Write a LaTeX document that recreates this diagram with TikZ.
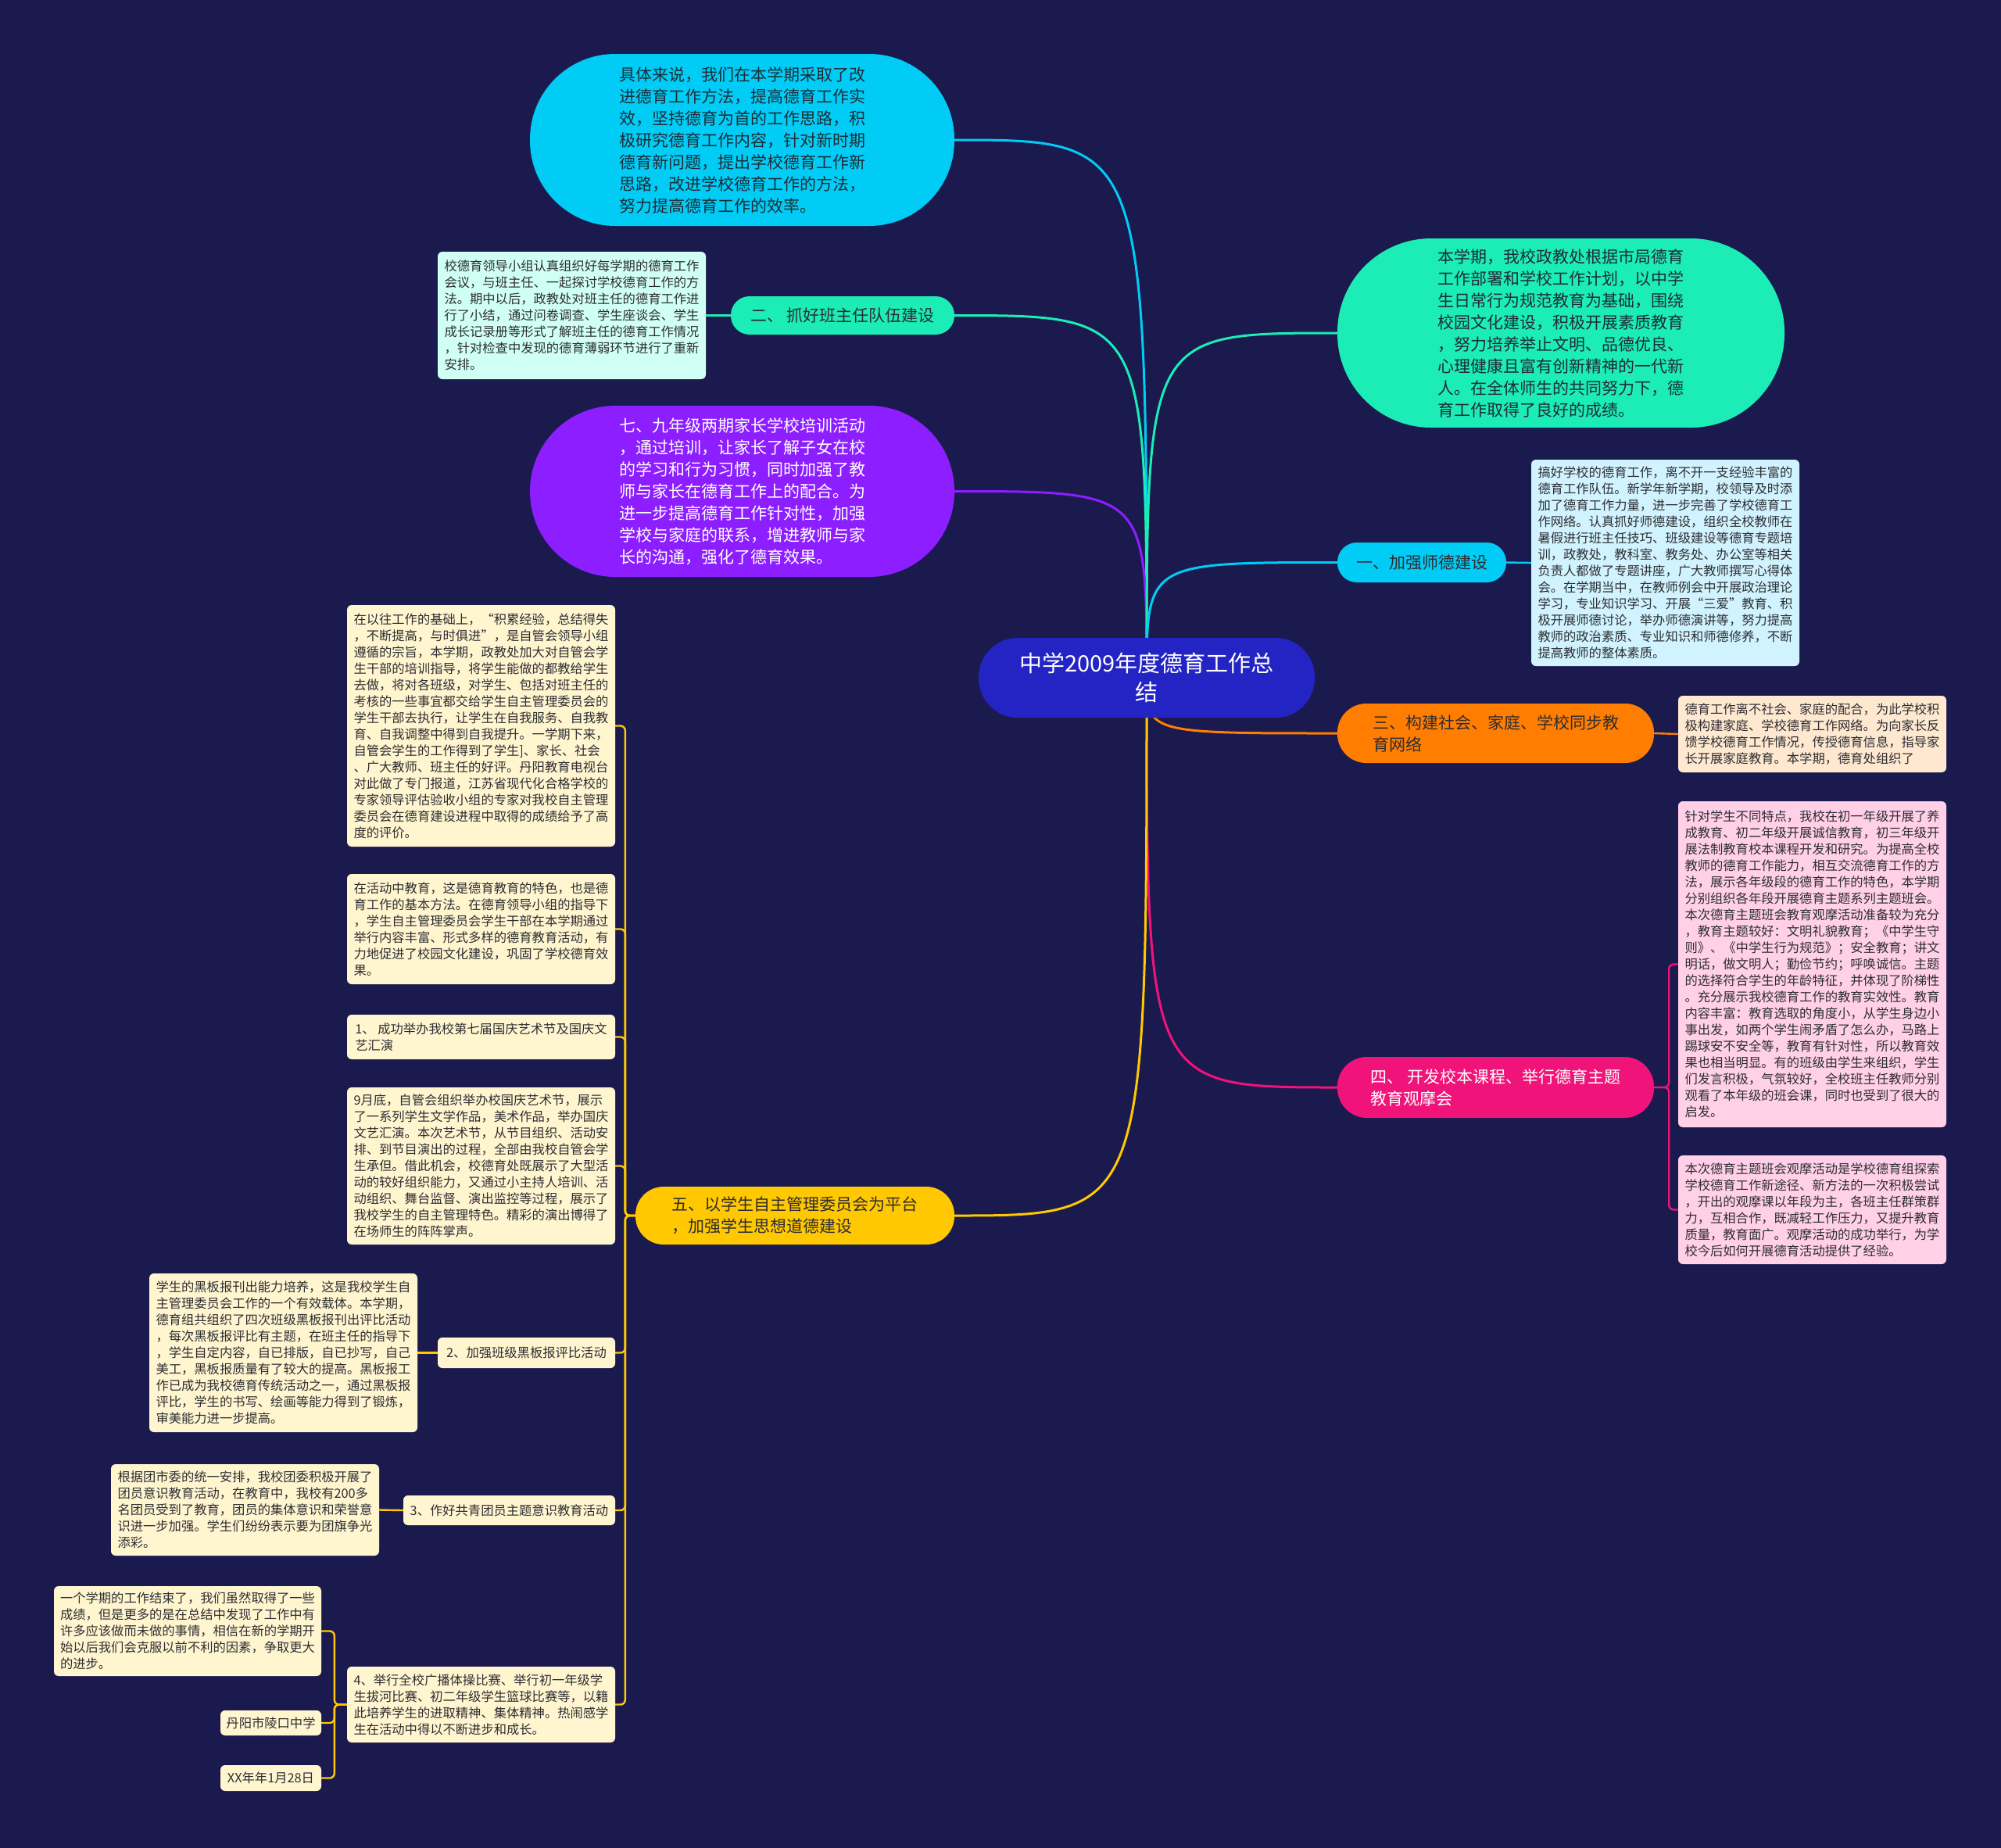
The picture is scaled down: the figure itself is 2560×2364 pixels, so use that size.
\documentclass[tikz,border=0pt]{standalone}
\usepackage{fontspec}
\newfontfamily\cjk{Noto Sans CJK SC}
\definecolor{bg}{RGB}{27,26,78}
\definecolor{ccyan}{RGB}{0,204,245}
\definecolor{cteal}{RGB}{28,236,182}
\definecolor{cpurple}{RGB}{140,30,255}
\definecolor{corange}{RGB}{255,125,0}
\definecolor{cpink}{RGB}{240,20,122}
\definecolor{cyellow}{RGB}{255,200,0}
\definecolor{ccenter}{RGB}{36,36,196}
\definecolor{lmint}{RGB}{208,255,244}
\definecolor{lcyan}{RGB}{208,243,255}
\definecolor{lpeach}{RGB}{255,232,208}
\definecolor{lpink}{RGB}{255,208,232}
\definecolor{lyellow}{RGB}{255,246,208}
\definecolor{dtext}{RGB}{45,45,50}
\definecolor{btext}{RGB}{30,45,55}
\pgfdeclarelayer{background}
\pgfsetlayers{background,main}
\begin{document}
\begin{tikzpicture}[x=1pt,y=-1pt,
  small/.style={font=\cjk\fontsize{16.3}{21}\selectfont},
  big/.style={font=\cjk\fontsize{21}{28}\selectfont},
  leaf/.style={small, rounded corners=6pt, inner sep=0pt, align=left, text=dtext},
  pill/.style={big, inner sep=0pt, align=left},
  conn/.style={line width=2.4pt, rounded corners=6pt},
  branch/.style={line width=3pt},
]
\useasboundingbox (0,0) rectangle (2560,2364);

% ---------- main nodes ----------
\node[pill, fill=ccenter, text=white, align=center, minimum width=430pt, minimum height=102pt, rounded corners=50pt,
  font=\cjk\fontsize{29}{37}\selectfont] (C) at (1467,867) {中学2009年度德育工作总\\结};

\node[pill, fill=ccyan, text=btext, minimum width=543pt, minimum height=220pt, rounded corners=109pt] (T) at (949.5,179)
{具体来说，我们在本学期采取了改\\进德育工作方法，提高德育工作实\\效，坚持德育为首的工作思路，积\\极研究德育工作内容，针对新时期\\德育新问题，提出学校德育工作新\\思路，改进学校德育工作的方法，\\努力提高德育工作的效率。};

\node[pill, fill=cteal, text=dtext, minimum width=286pt, minimum height=49pt, rounded corners=24pt] (L2) at (1078,403.5)
{二、 抓好班主任队伍建设};

\node[leaf, fill=lmint, minimum width=343pt, minimum height=163pt] (B2) at (731.5,403.5)
{校德育领导小组认真组织好每学期的德育工作\\会议，与班主任、一起探讨学校德育工作的方\\法。期中以后，政教处对班主任的德育工作进\\行了小结，通过问卷调查、学生座谈会、学生\\成长记录册等形式了解班主任的德育工作情况\\，针对检查中发现的德育薄弱环节进行了重新\\安排。};

\node[pill, fill=cpurple, text=white, minimum width=543pt, minimum height=219pt, rounded corners=109pt] (P) at (949.5,628.5)
{七、九年级两期家长学校培训活动\\，通过培训，让家长了解子女在校\\的学习和行为习惯，同时加强了教\\师与家长在德育工作上的配合。为\\进一步提高德育工作针对性，加强\\学校与家庭的联系，增进教师与家\\长的沟通，强化了德育效果。};

\node[pill, fill=cteal, text=btext, minimum width=572pt, minimum height=242pt, rounded corners=120pt] (G) at (1997,426)
{本学期，我校政教处根据市局德育\\工作部署和学校工作计划，以中学\\生日常行为规范教育为基础，围绕\\校园文化建设，积极开展素质教育\\，努力培养举止文明、品德优良、\\心理健康且富有创新精神的一代新\\人。在全体师生的共同努力下，德\\育工作取得了良好的成绩。};

\node[pill, fill=ccyan, text=dtext, minimum width=216pt, minimum height=51pt, rounded corners=25pt] (L1) at (1819,719.5)
{一、加强师德建设};

\node[leaf, fill=lcyan, minimum width=343pt, minimum height=264pt] (B1) at (2130.5,720)
{搞好学校的德育工作，离不开一支经验丰富的\\德育工作队伍。新学年新学期，校领导及时添\\加了德育工作力量，进一步完善了学校德育工\\作网络。认真抓好师德建设，组织全校教师在\\暑假进行班主任技巧、班级建设等德育专题培\\训，政教处，教科室、教务处、办公室等相关\\负责人都做了专题讲座，广大教师撰写心得体\\会。在学期当中，在教师例会中开展政治理论\\学习，专业知识学习、开展“三爱”教育、积\\极开展师德讨论，举办师德演讲等，努力提高\\教师的政治素质、专业知识和师德修养，不断\\提高教师的整体素质。};

\node[pill, fill=corange, text=dtext, minimum width=405pt, minimum height=76pt, rounded corners=37pt] (L3) at (1913.5,938)
{三、构建社会、家庭、学校同步教\\育网络};

\node[leaf, fill=lpeach, minimum width=343pt, minimum height=98pt] (B3) at (2318.5,939)
{德育工作离不社会、家庭的配合，为此学校积\\极构建家庭、学校德育工作网络。为向家长反\\馈学校德育工作情况，传授德育信息，指导家\\长开展家庭教育。本学期，德育处组织了};

\node[pill, fill=cpink, text=white, minimum width=405pt, minimum height=78pt, rounded corners=38pt] (L4) at (1913.5,1391)
{四、 开发校本课程、举行德育主题\\教育观摩会};

\node[leaf, fill=lpink, minimum width=343pt, minimum height=417pt] (B4a) at (2318.5,1233.5)
{针对学生不同特点，我校在初一年级开展了养\\成教育、初二年级开展诚信教育，初三年级开\\展法制教育校本课程开发和研究。为提高全校\\教师的德育工作能力，相互交流德育工作的方\\法，展示各年级段的德育工作的特色，本学期\\分别组织各年段开展德育主题系列主题班会。\\本次德育主题班会教育观摩活动准备较为充分\\，教育主题较好：文明礼貌教育；《中学生守\\则》、《中学生行为规范》；安全教育；讲文\\明话，做文明人；勤俭节约；呼唤诚信。主题\\的选择符合学生的年龄特征，并体现了阶梯性\\。充分展示我校德育工作的教育实效性。教育\\内容丰富：教育选取的角度小，从学生身边小\\事出发，如两个学生闹矛盾了怎么办，马路上\\踢球安不安全等，教育有针对性，所以教育效\\果也相当明显。有的班级由学生来组织，学生\\们发言积极，气氛较好，全校班主任教师分别\\观看了本年级的班会课，同时也受到了很大的\\启发。};

\node[leaf, fill=lpink, minimum width=343pt, minimum height=139pt] (B4b) at (2318.5,1547.5)
{本次德育主题班会观摩活动是学校德育组探索\\学校德育工作新途径、新方法的一次积极尝试\\，开出的观摩课以年段为主，各班主任群策群\\力，互相合作，既减轻工作压力，又提升教育\\质量，教育面广。观摩活动的成功举行，为学\\校今后如何开展德育活动提供了经验。};

\node[pill, fill=cyellow, text=dtext, minimum width=408pt, minimum height=74pt, rounded corners=36pt] (L5) at (1017,1555)
{五、以学生自主管理委员会为平台\\，加强学生思想道德建设};

\node[leaf, fill=lyellow, minimum width=343pt, minimum height=309pt] (B5a) at (615.5,928.5)
{在以往工作的基础上，“积累经验，总结得失\\，不断提高，与时俱进”，是自管会领导小组\\遵循的宗旨，本学期，政教处加大对自管会学\\生干部的培训指导，将学生能做的都教给学生\\去做，将对各班级，对学生、包括对班主任的\\考核的一些事宜都交给学生自主管理委员会的\\学生干部去执行，让学生在自我服务、自我教\\育、自我调整中得到自我提升。一学期下来，\\自管会学生的工作得到了学生]、家长、社会\\、广大教师、班主任的好评。丹阳教育电视台\\对此做了专门报道，江苏省现代化合格学校的\\专家领导评估验收小组的专家对我校自主管理\\委员会在德育建设进程中取得的成绩给予了高\\度的评价。};

\node[leaf, fill=lyellow, minimum width=343pt, minimum height=141pt] (B5b) at (615.5,1188.5)
{在活动中教育，这是德育教育的特色，也是德\\育工作的基本方法。在德育领导小组的指导下\\，学生自主管理委员会学生干部在本学期通过\\举行内容丰富、形式多样的德育教育活动，有\\力地促进了校园文化建设，巩固了学校德育效\\果。};

\node[leaf, fill=lyellow, minimum width=343pt, minimum height=57pt] (B5c) at (615.5,1326.5)
{1、 成功举办我校第七届国庆艺术节及国庆文\\艺汇演};

\node[leaf, fill=lyellow, minimum width=343pt, minimum height=201pt] (B5d) at (615.5,1491.5)
{9月底，自管会组织举办校国庆艺术节，展示\\了一系列学生文学作品，美术作品，举办国庆\\文艺汇演。本次艺术节，从节目组织、活动安\\排、到节目演出的过程，全部由我校自管会学\\生承但。借此机会，校德育处既展示了大型活\\动的较好组织能力，又通过小主持人培训、活\\动组织、舞台监督、演出监控等过程，展示了\\我校学生的自主管理特色。精彩的演出博得了\\在场师生的阵阵掌声。};

\node[leaf, fill=lyellow, minimum width=227pt, minimum height=39pt] (S2) at (673.5,1730.5)
{2、加强班级黑板报评比活动};

\node[leaf, fill=lyellow, minimum width=343pt, minimum height=203pt] (S2c) at (362.5,1730.5)
{学生的黑板报刊出能力培养，这是我校学生自\\主管理委员会工作的一个有效载体。本学期，\\德育组共组织了四次班级黑板报刊出评比活动\\，每次黑板报评比有主题，在班主任的指导下\\，学生自定内容，自已排版，自已抄写，自己\\美工，黑板报质量有了较大的提高。黑板报工\\作已成为我校德育传统活动之一，通过黑板报\\评比，学生的书写、绘画等能力得到了锻炼，\\审美能力进一步提高。};

\node[leaf, fill=lyellow, minimum width=271pt, minimum height=38pt] (S3) at (651.5,1932)
{3、作好共青团员主题意识教育活动};

\node[leaf, fill=lyellow, minimum width=343pt, minimum height=117pt] (S3c) at (313.5,1931.5)
{根据团市委的统一安排，我校团委积极开展了\\团员意识教育活动，在教育中，我校有200多\\名团员受到了教育，团员的集体意识和荣誉意\\识进一步加强。学生们纷纷表示要为团旗争光\\添彩。};

\node[leaf, fill=lyellow, minimum width=343pt, minimum height=97pt] (S4) at (615.5,2180.5)
{4、举行全校广播体操比赛、举行初一年级学\\生拔河比赛、初二年级学生篮球比赛等，以籍\\此培养学生的进取精神、集体精神。热闹感学\\生在活动中得以不断进步和成长。};

\node[leaf, fill=lyellow, minimum width=342pt, minimum height=115pt] (K1) at (240,2086.5)
{一个学期的工作结束了，我们虽然取得了一些\\成绩，但是更多的是在总结中发现了工作中有\\许多应该做而未做的事情，相信在新的学期开\\始以后我们会克服以前不利的因素，争取更大\\的进步。};

\node[leaf, fill=lyellow, minimum width=129pt, minimum height=32pt] (K2) at (346.5,2204)
{丹阳市陵口中学};

\node[leaf, fill=lyellow, minimum width=129pt, minimum height=33pt] (K3) at (346.5,2274.5)
{XX年年1月28日};

% ---------- connectors (behind the nodes) ----------
\begin{pgfonlayer}{background}
\fill[bg] (0,0) rectangle (2560,2364);
\draw[branch, ccyan] (C.center) .. controls (C.center |- T.east) .. (T.east);
\draw[branch, cteal] (C.center) .. controls (C.center |- L2.east) .. (L2.east);
\draw[branch, cpurple] (C.center) .. controls (C.center |- P.east) .. (P.east);
\draw[branch, cteal] (C.center) .. controls (C.center |- G.west) .. (G.west);
\draw[branch, ccyan] (C.center) .. controls (C.center |- L1.west) .. (L1.west);
\draw[branch, corange] (C.center) .. controls (C.center |- L3.west) .. (L3.west);
\draw[branch, cpink] (C.center) .. controls (C.center |- L4.west) .. (L4.west);
\draw[branch, cyellow] (C.center) .. controls (C.center |- L5.east) .. (L5.east);

\draw[conn, cteal] (L2.west) -- (B2.east);
\draw[conn, ccyan] (L1.east) -- (B1.west);
\draw[conn, corange] (L3.east) -- (B3.west);
\draw[conn, cpink] (L4.east) -- ++(19,0) |- (B4a.west);
\draw[conn, cpink] (L4.east) -- ++(19,0) |- (B4b.west);
\draw[conn, cyellow] (L5.west) -- ++(-13,0) |- (B5a.east);
\draw[conn, cyellow] (L5.west) -- ++(-13,0) |- (B5b.east);
\draw[conn, cyellow] (L5.west) -- ++(-13,0) |- (B5c.east);
\draw[conn, cyellow] (L5.west) -- ++(-13,0) |- (B5d.east);
\draw[conn, cyellow] (L5.west) -- ++(-13,0) |- (S2.east);
\draw[conn, cyellow] (L5.west) -- ++(-13,0) |- (S3.east);
\draw[conn, cyellow] (L5.west) -- ++(-13,0) |- (S4.east);
\draw[conn, cyellow] (S2.west) -- (S2c.east);
\draw[conn, cyellow] (S3.west) -- (S3c.east);
\draw[conn, cyellow] (S4.west) -- ++(-16,0) |- (K1.east);
\draw[conn, cyellow] (S4.west) -- ++(-16,0) |- (K2.east);
\draw[conn, cyellow] (S4.west) -- ++(-16,0) |- (K3.east);
\end{pgfonlayer}
\end{tikzpicture}
\end{document}
